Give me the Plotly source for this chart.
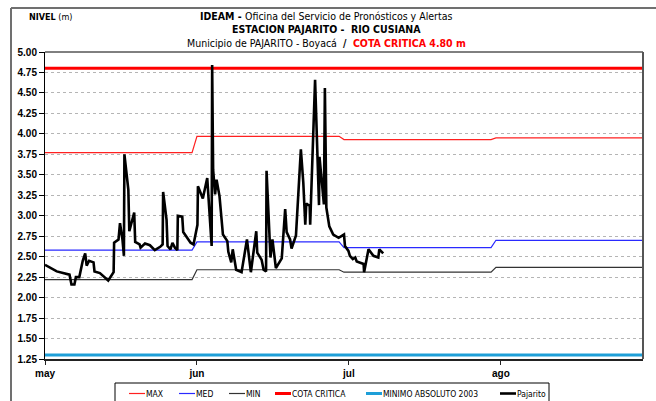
import pandas as pd
import plotly.graph_objects as go

# --- Datos -----------------------------------------------------------------
inicio = pd.Timestamp("2009-05-01")
fin = pd.Timestamp("2009-08-31")

meses = ["may", "jun", "jul", "ago"]
max_mes = [3.77, 3.97, 3.93, 3.95]
med_mes = [2.58, 2.68, 2.61, 2.70]
min_mes = [2.22, 2.34, 2.31, 2.37]
cota_critica = 4.80
minimo_absoluto_2003 = 1.30

# días transcurridos desde el 1 de mayo y nivel registrado (m)
dias_pajarito = [
    0.0, 1.7, 2.4, 5.0, 5.4, 6.0, 6.3, 7.0, 7.7, 8.2, 8.5, 9.0, 9.9, 10.1,
    11.2, 12.9, 14.0, 14.1, 15.0, 15.3, 15.8, 16.1, 16.2, 17.0, 17.2, 18.2,
    18.4, 19.3, 19.5, 20.4, 21.4, 22.4, 23.5, 24.0, 24.1, 24.8, 25.0, 25.6,
    26.0, 26.5, 27.0, 27.1, 28.0, 28.2, 29.7, 30.3, 31.1, 31.2, 32.2, 33.1,
    34.0, 34.1, 34.3, 34.7, 35.0, 35.6, 36.3, 37.2, 37.4, 38.0, 38.3, 39.0,
    40.1, 41.2, 42.0, 43.1, 43.3, 44.2, 44.6, 45.1, 45.2, 46.0, 46.4, 47.1,
    48.0, 48.3, 49.0, 49.3, 50.0, 50.3, 51.2, 52.2, 52.7, 53.1, 53.3, 54.0,
    54.1, 55.1, 55.9, 56.0, 56.5, 56.9, 57.1, 57.4, 58.0, 58.8, 59.9, 61.0,
    61.2, 61.9, 62.2, 62.8, 63.3, 63.6, 65.0, 65.1, 66.0, 67.0, 68.0, 68.2,
    69.0,
]
nivel_pajarito = [
    2.40, 2.35, 2.32, 2.28, 2.16, 2.16, 2.25, 2.25, 2.45, 2.54, 2.39, 2.45, 2.43, 2.32,
    2.30, 2.21, 2.31, 2.67, 2.71, 2.91, 2.71, 2.51, 3.75, 3.32, 2.81, 3.04,
    2.68, 2.65, 2.61, 2.66, 2.64, 2.58, 2.62, 2.65, 3.29, 2.95, 2.63, 2.59,
    2.67, 2.61, 2.58, 3.00, 2.99, 2.80, 2.67, 2.65, 2.89, 3.36, 3.21, 3.46,
    2.63, 4.84, 3.56, 3.26, 3.44, 3.24, 2.77, 2.69, 2.56, 2.43, 2.59, 2.34,
    2.31, 2.71, 2.31, 2.81, 2.55, 2.46, 2.34, 2.32, 3.55, 2.49, 2.71, 2.36,
    2.44, 2.48, 3.08, 2.80, 2.71, 2.60, 2.76, 3.81, 3.40, 2.89, 3.15, 3.12,
    2.89, 4.66, 3.13, 3.72, 3.40, 3.14, 4.56, 3.10, 2.87, 2.77, 2.73, 2.77,
    2.63, 2.57, 2.51, 2.47, 2.49, 2.44, 2.41, 2.31, 2.59, 2.51, 2.49, 2.59,
    2.54,
]

# --- Series derivadas ------------------------------------------------------
fechas = pd.date_range(inicio, fin, freq="D")
idx_mes = [f.month - 5 for f in fechas]
serie_max = [max_mes[i] for i in idx_mes]
serie_med = [med_mes[i] for i in idx_mes]
serie_min = [min_mes[i] for i in idx_mes]
fechas_pajarito = inicio + pd.to_timedelta(dias_pajarito, unit="D")

# etiquetas del eje cada 31 días
ticks_x = [inicio + pd.Timedelta(days=31 * i) for i in range(len(meses))]
ticks_y = [1.25 + 0.25 * i for i in range(16)]

NARROW = "Liberation Sans Narrow, Arial Narrow, DejaVu Sans Condensed, sans-serif"
ARIAL = "Liberation Sans, Arial, sans-serif"

# nombre, x, y, color, grosor
series = [
    ("MAX", fechas, serie_max, "#ff2020", 1.2),
    ("MED", fechas, serie_med, "#2a2aff", 1.2),
    ("MIN", fechas, serie_min, "#333333", 1.2),
    ("COTA CRITICA", fechas, [cota_critica] * len(fechas), "#ff0000", 3),
    ("MINIMO ABSOLUTO 2003", fechas, [minimo_absoluto_2003] * len(fechas), "#1e9fd8", 3),
    ("Pajarito", fechas_pajarito, nivel_pajarito, "#000000", 2.6),
]

fig = go.Figure()
for nombre, x, y, color, grosor in series:
    fig.add_trace(go.Scatter(x=x, y=y, mode="lines", name=nombre,
                             line=dict(color=color, width=grosor)))

fig.update_layout(
    width=656, height=401,
    margin=dict(l=45, r=13, t=52, b=42),
    paper_bgcolor="white", plot_bgcolor="white",
    showlegend=False,
    xaxis=dict(type="date", range=[inicio, fin], showgrid=False, zeroline=False,
               showline=True, linecolor="#222", linewidth=2,
               ticks="outside", ticklen=4, tickcolor="#222",
               tickvals=ticks_x, ticktext=[f"<b>{m}</b>" for m in meses],
               tickfont=dict(family=ARIAL, size=10, color="#000")),
    yaxis=dict(range=[1.25, 5.0], tickvals=ticks_y,
               ticktext=[f"<b>{v:.2f}</b>" for v in ticks_y],
               showgrid=True, gridcolor="#b5b5b5", griddash="dot", gridwidth=1,
               zeroline=False, showline=True, linecolor="#000", linewidth=1,
               ticks="outside", ticklen=5, tickcolor="#000",
               tickfont=dict(family=ARIAL, size=10, color="#000")),
)


def px_x(px):
    return (px - 45) / 598


def px_y(py):
    return (359 - py) / 307


# marco del área de trazado y del gráfico
fig.add_shape(type="line", xref="paper", yref="paper", x0=0, x1=1, y0=1, y1=1,
              line=dict(color="#000", width=1))
fig.add_shape(type="line", xref="paper", yref="paper", x0=1, x1=1, y0=0, y1=1,
              line=dict(color="#555", width=2))
fig.add_shape(type="line", xref="paper", yref="paper", x0=px_x(11), x1=px_x(700),
              y0=px_y(8), y1=px_y(8), line=dict(color="#707070", width=2))
fig.add_shape(type="line", xref="paper", yref="paper", x0=px_x(11), x1=px_x(11),
              y0=px_y(8), y1=px_y(450), line=dict(color="#707070", width=2))

# leyenda
fig.add_shape(type="rect", xref="paper", yref="paper",
              x0=px_x(115), x1=px_x(549), y0=px_y(383), y1=px_y(430),
              line=dict(color="#000", width=1), fillcolor="white")
leyenda_x = [129, 179, 229, 275, 366, 500]
y_ley = px_y(393.5)
for (nombre, _, _, color, grosor), lx in zip(series, leyenda_x):
    fig.add_shape(type="line", xref="paper", yref="paper",
                  x0=px_x(lx), x1=px_x(lx + 16), y0=y_ley, y1=y_ley,
                  line=dict(color=color, width=grosor))
    fig.add_annotation(xref="paper", yref="paper", x=px_x(lx + 16), y=y_ley,
                       showarrow=False, xanchor="left", yanchor="middle",
                       text=nombre, xshift=-1,
                       font=dict(family=NARROW, size=8.5, color="#000"))

# títulos
cx = px_x(326)
fig.add_annotation(xref="paper", yref="paper", x=cx, y=px_y(16), showarrow=False,
                   xanchor="center", yanchor="middle",
                   text="<b>IDEAM - </b>Oficina del Servicio de Pronósticos y Alertas",
                   font=dict(family=NARROW, size=10.5, color="#000"))
fig.add_annotation(xref="paper", yref="paper", x=cx, y=px_y(29.5), showarrow=False,
                   xanchor="center", yanchor="middle",
                   text="<b>ESTACION PAJARITO -  RIO CUSIANA</b>",
                   font=dict(family=NARROW, size=10.5, color="#000"))
fig.add_annotation(xref="paper", yref="paper", x=cx, y=px_y(43), showarrow=False,
                   xanchor="center", yanchor="middle",
                   text="Municipio de PAJARITO - Boyacá  <b>/  </b>"
                        "<b><span style='color:#ff0000'>COTA CRITICA 4.80 m</span></b>",
                   font=dict(family=NARROW, size=10.5, color="#000"))
fig.add_annotation(xref="paper", yref="paper", x=px_x(27), y=px_y(17),
                   showarrow=False, xanchor="left", yanchor="middle",
                   text="<b>NIVEL</b> (m)",
                   font=dict(family=NARROW, size=9, color="#000"))

fig.write_html("out.html")
